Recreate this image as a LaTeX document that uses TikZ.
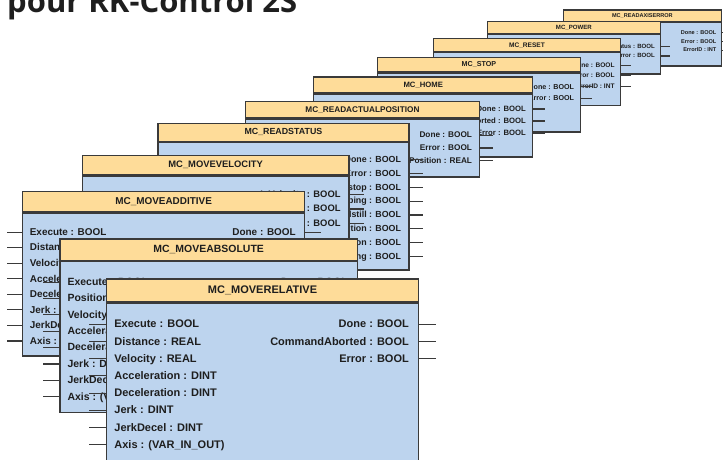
\documentclass[tikz,border=0pt]{standalone}
\usepackage{fontspec}
\setmainfont{Liberation Sans}
\newfontfamily\titrefont{Open Sans}
\definecolor{entete}{RGB}{254,220,153}
\definecolor{corps}{RGB}{189,212,238}
\definecolor{trait}{RGB}{58,58,58}
\definecolor{texte}{RGB}{30,30,30}

% #1 nom, #2 x, #3 y, #4 echelle, #5 hauteur du corps, #6 titre, #7 entrees, #8 sorties
\newcommand{\bloc}[8]{%
    \begin{scope}[shift={(#2,#3)}, scale=#4, transform shape]
        \node[bloctete] (#1h) at (0,0) {#6};
        \node[bloccorps, minimum height=#5pt] (#1b) at (#1h.south) {};
        \if\relax\detokenize{#7}\relax\else
        \foreach \txt [count=\i] in {#7} {
            \node[entree] (#1i\i) at (8.5,{46+(\i-1)*17.2}) {\txt};
            \draw[patte] (#1b.west |- #1i\i) -- ++(-17,0);
        }
        \fi
        \foreach \txt [count=\i] in {#8} {
            \node[sortie] (#1o\i) at (303.3,{46+(\i-1)*17.2}) {\txt};
            \draw[patte] (#1b.east |- #1o\i) -- ++(17,0);
        }
    \end{scope}}

\begin{document}
\begin{tikzpicture}[x=1pt, y=-1pt,
    bloctete/.style={draw=trait, fill=entete, line width=1.4pt, anchor=north west,
        minimum width=312.3pt, minimum height=22.5pt, inner sep=0pt, text=texte,
        font=\bfseries\fontsize{11}{13}\selectfont},
    bloccorps/.style={draw=trait, fill=corps, line width=1.4pt, anchor=north,
        minimum width=312.3pt, inner sep=0pt},
    entree/.style={anchor=west, inner sep=0pt, text=texte, text height=8pt, text depth=1pt,
        font=\bfseries\fontsize{11}{13}\selectfont},
    sortie/.style={entree, anchor=east},
    patte/.style={draw=trait, line width=1.1pt},
    titre/.style={anchor=base west, inner sep=0pt, text=texte,
        font=\titrefont\bfseries\fontsize{31}{37}\selectfont}]

    \useasboundingbox (0,0) rectangle (723,459);
    \clip (0,0) rectangle (723,459);
    \fill[white] (0,0) rectangle (723,459);

    \node[titre] (titre) at (7,12) {pour RK-Control 2S};

    \bloc{rae}{563}{9.5}{0.506}{87}{MC\_READAXISERROR}{}
        {Done : BOOL, Error : BOOL, ErrorID : INT}
    \bloc{pow}{487}{21}{0.554}{71}{MC\_POWER}{}
        {Status : BOOL, Error : BOOL}
    \bloc{rst}{433}{38}{0.599}{88}{MC\_RESET}{}
        {Done : BOOL, Error : BOOL, ErrorID : INT}
    \bloc{stp}{377}{57}{0.650}{91}{MC\_STOP}{}
        {Done : BOOL, Error : BOOL}
    \bloc{hom}{313.3}{76.7}{0.701}{90}{MC\_HOME}{}
        {Done : BOOL, CommandAborted : BOOL, Error : BOOL}
    \bloc{rap}{245}{100.7}{0.749}{77}{MC\_READACTUALPOSITION}{}
        {Done : BOOL, Error : BOOL, Position : REAL}
    \bloc{rds}{157.3}{122.7}{0.804}{158.5}{MC\_READSTATUS}{}
        {Done : BOOL, Error : BOOL, Errorstop : BOOL, Stopping : BOOL, Standstill : BOOL,
         DiscreteMotion : BOOL, ContinuousMotion : BOOL, Homing : BOOL}
    \bloc{mvv}{81.7}{155}{0.854}{158.5}{MC\_MOVEVELOCITY}{}
        {InVelocity : BOOL, CommandAborted : BOOL, Error : BOOL}
    \bloc{madd}{22}{190.7}{0.903}{158.5}{MC\_MOVEADDITIVE}
        {Execute : BOOL, Distance : REAL, Velocity : REAL, Acceleration : DINT,
         Deceleration : DINT, Jerk : DINT, JerkDecel : DINT, Axis : (VAR\_IN\_OUT)}
        {Done : BOOL, CommandAborted : BOOL, Error : BOOL}
    \bloc{mabs}{59.3}{238.3}{0.952}{158.5}{MC\_MOVEABSOLUTE}
        {Execute : BOOL, Position : REAL, Velocity : REAL, Acceleration : DINT,
         Deceleration : DINT, Jerk : DINT, JerkDecel : DINT, Axis : (VAR\_IN\_OUT)}
        {Done : BOOL, CommandAborted : BOOL, Error : BOOL}
    \bloc{mrel}{105.7}{278.3}{1}{175}{MC\_MOVERELATIVE}
        {Execute : BOOL, Distance : REAL, Velocity : REAL, Acceleration : DINT,
         Deceleration : DINT, Jerk : DINT, JerkDecel : DINT, Axis : (VAR\_IN\_OUT)}
        {Done : BOOL, CommandAborted : BOOL, Error : BOOL}

\end{tikzpicture}
\end{document}
